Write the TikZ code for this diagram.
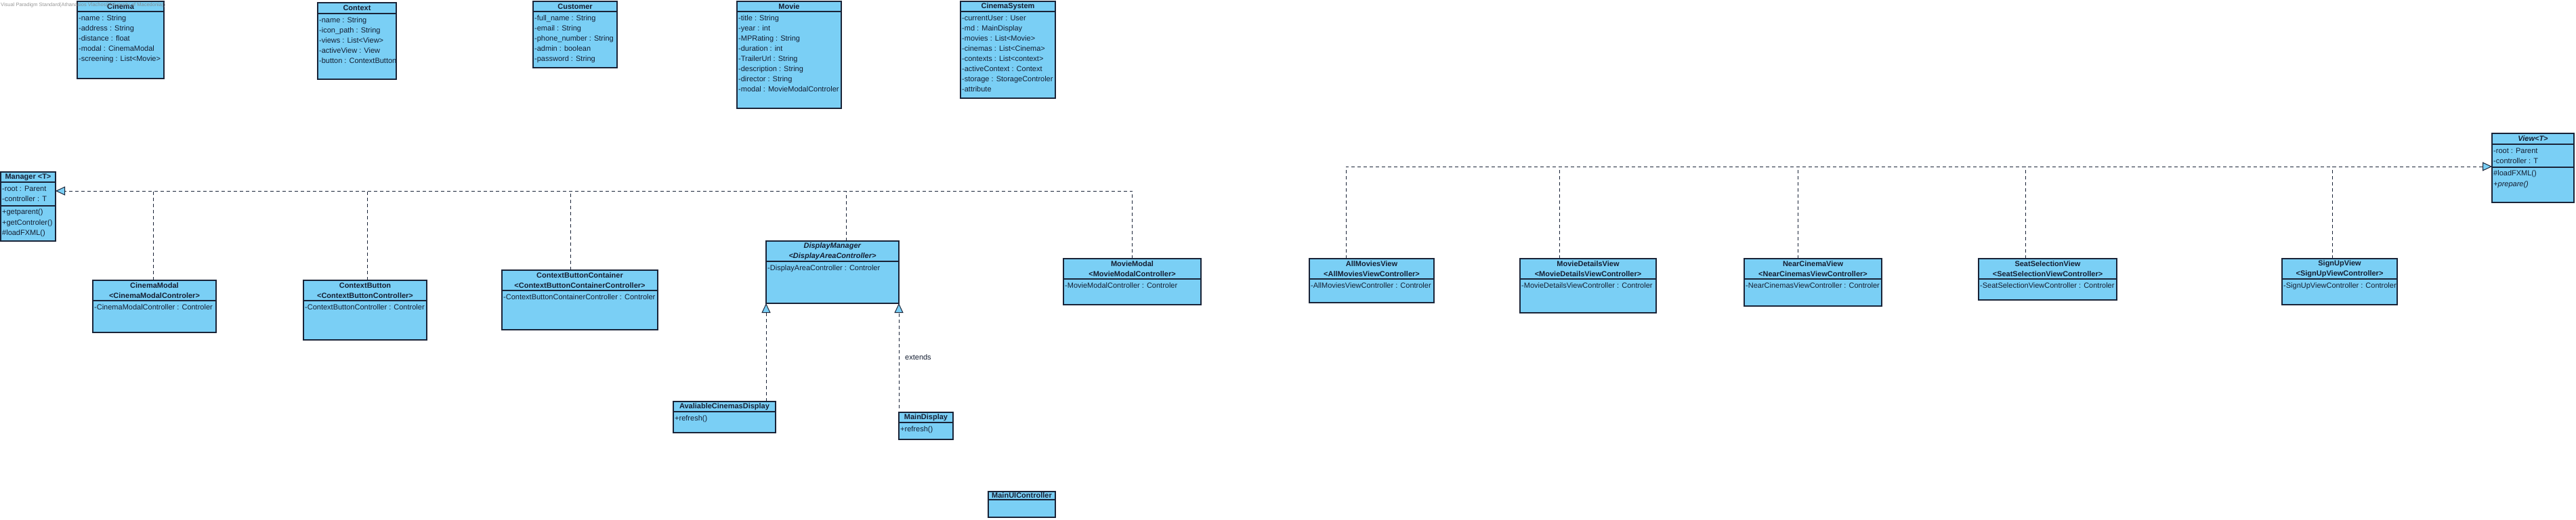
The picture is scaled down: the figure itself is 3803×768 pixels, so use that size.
\documentclass[tikz,border=0pt]{standalone}
\usepackage{fontspec}
\setmainfont{Liberation Sans}
\usetikzlibrary{arrows.meta,calc}
\definecolor{boxfill}{RGB}{122,207,245}
\definecolor{boxline}{RGB}{25,35,55}
\definecolor{txt}{RGB}{20,30,50}
\tikzset{
  clsbox/.style={draw=boxline, line width=1.2pt, fill=boxfill, inner sep=0pt, outer sep=0pt},
  clsline/.style={draw=boxline, line width=1.2pt},
  hdr/.style={font=\fontsize{11}{15}\selectfont\bfseries, text=txt, align=center, inner sep=0pt},
  rowtext/.style={font=\fontsize{11}{15}\selectfont, text=txt, anchor=base west, inner sep=0pt},
  realize/.style={draw=boxline, line width=1pt, dash pattern=on 5pt off 4pt},
  hollow/.style={-{Triangle[length=14pt,width=13pt,fill=boxfill,line width=1pt]}},
}
\newcommand\umlclass[8]{%
  \node[clsbox, minimum width=#4pt, minimum height=#5pt, anchor=north west] (#1) at (#2,#3) {};
  \draw[clsline] ([yshift=-#6pt]#1.north west) -- ([yshift=-#6pt]#1.north east);
  \node[hdr] (#1-head) at ([yshift=-#6/2]#1.north) {#7};
  \foreach \t [count=\i] in {#8} {%
    \pgfmathsetmacro\yy{#6+13.5+(\i-1)*15}%
    \node[rowtext] (#1-r\i) at ([xshift=2pt,yshift=-\yy pt]#1.north west) {\t};
  }%
}
\newcommand\umlops[3]{%
  \draw[clsline] ([yshift=-#2pt]#1.north west) -- ([yshift=-#2pt]#1.north east);
  \foreach \t [count=\i] in {#3} {%
    \pgfmathsetmacro\yy{#2+12.5+(\i-1)*15.5}%
    \node[rowtext] (#1-m\i) at ([xshift=2pt,yshift=-\yy pt]#1.north west) {\t};
  }%
}
\begin{document}
\begin{tikzpicture}[x=1pt,y=-1pt]
\fill[white] (0,0) rectangle (3803,768);
\useasboundingbox (0,0) rectangle (3803,768);

% top row of classes
\umlclass{cinema}{114}{2}{128}{114}{15}{Cinema}{-name : String,-address : String,-distance : float,-modal : CinemaModal,-screening : List<Movie>}
\umlclass{context}{469}{4}{116}{113}{16}{Context}{-name : String,-icon\_path : String,-views : List<View>,-activeView : View,-button : ContextButton}
\umlclass{customer}{787}{2}{124}{98}{15}{Customer}{-full\_name : String,-email : String,-phone\_number : String,-admin : boolean,-password : String}
\umlclass{movie}{1088}{2}{154}{158}{15}{Movie}{-title : String,-year : int,-MPRating : String,-duration : int,-TrailerUrl : String,-description : String,-director : String,-modal : MovieModalControler}
\umlclass{cinemasystem}{1418}{2}{140}{143}{15}{CinemaSystem}{-currentUser : User,-md : MainDisplay,-movies : List<Movie>,-cinemas : List<Cinema>,-contexts : List<context>,-activeContext : Context,-storage : StorageControler,-attribute}

% generic parents
\umlclass{manager}{1}{254}{81}{102}{15}{Manager <T>}{-root : Parent,-controller : T}
\umlops{manager}{50}{+getparent(),+getControler(),\#loadFXML()}
\umlclass{view}{3679}{197}{121}{102}{16}{\textit{View<T>}}{-root : Parent,-controller : T}
\umlops{view}{50}{\#loadFXML(),\textit{+prepare()}}

% managers
\umlclass{cinemamodal}{137}{414}{182}{77}{30}{CinemaModal\\<CinemaModalControler>}{-CinemaModalController : Controler}
\umlclass{contextbutton}{448}{414}{182}{88}{30}{ContextButton\\<ContextButtonController>}{-ContextButtonController : Controler}
\umlclass{cbcontainer}{741}{399}{230}{88}{30}{ContextButtonContainer\\<ContextButtonContainerController>}{-ContextButtonContainerController : Controler}
\umlclass{displaymanager}{1131}{356}{196}{92}{30}{\textit{DisplayManager}\\\textit{<DisplayAreaController>}}{-DisplayAreaController : Controler}
\umlclass{moviemodal}{1570}{382}{203}{68}{30}{MovieModal\\<MovieModalController>}{-MovieModalController : Controler}

% views
\umlclass{allmovies}{1933}{382}{184}{65}{30}{AllMoviesView\\<AllMoviesViewController>}{-AllMoviesViewController : Controler}
\umlclass{moviedetails}{2244}{382}{201}{80}{30}{MovieDetailsView\\<MovieDetailsViewController>}{-MovieDetailsViewController : Controler}
\umlclass{nearcinema}{2575}{382}{203}{70}{30}{NearCinemaView\\<NearCinemasViewController>}{-NearCinemasViewController : Controler}
\umlclass{seatselection}{2921}{382}{204}{61}{30}{SeatSelectionView\\<SeatSelectionViewController>}{-SeatSelectionViewController : Controler}
\umlclass{signup}{3369}{382}{170}{68}{30}{SignUpView\\<SignUpViewController>}{-SignUpViewController : Controler}

% displays
\umlclass{avaliable}{994}{593}{151}{46}{15}{AvaliableCinemasDisplay}{+refresh()}
\umlclass{maindisplay}{1327}{609}{80}{40}{15}{MainDisplay}{+refresh()}

% MainUIController
\node[clsbox, minimum width=99pt, minimum height=38pt, anchor=north west] (mainui) at (1459,726) {};
\draw[clsline] ([yshift=-12pt]mainui.north west) -- ([yshift=-12pt]mainui.north east);
\node[hdr] (mainui-head) at ([yshift=-6pt]mainui.north) {MainUIController};

% watermark
\node[font=\fontsize{7.5}{9}\selectfont, text=gray, anchor=west, inner sep=0pt, opacity=0.8] (wm) at (1,8) {Visual Paradigm Standard(Athanasios Vlachos(University of Macedonia))};

% realizations to Manager
\coordinate (mtip) at ([yshift=23pt]manager.east);
\draw[realize] ([xshift=-2pt]cinemamodal.north) -- ([xshift=-2pt]cinemamodal.north |- mtip);
\draw[realize] ([xshift=3pt]contextbutton.north) -- ([xshift=3pt]contextbutton.north |- mtip);
\draw[realize] ([xshift=-14pt]cbcontainer.north) -- ([xshift=-14pt]cbcontainer.north |- mtip);
\draw[realize] ([xshift=20pt]displaymanager.north) -- ([xshift=20pt]displaymanager.north |- mtip);
\draw[realize, hollow] (moviemodal.north) |- (mtip);

% realizations to View
\coordinate (vtip) at ([yshift=2pt]view.west);
\draw[realize, hollow] ([xshift=-38pt]allmovies.north) |- (vtip);
\draw[realize] ([xshift=-42pt]moviedetails.north) -- ([xshift=-42pt]moviedetails.north |- vtip);
\draw[realize] ([xshift=-22pt]nearcinema.north) -- ([xshift=-22pt]nearcinema.north |- vtip);
\draw[realize] ([xshift=-33pt]seatselection.north) -- ([xshift=-33pt]seatselection.north |- vtip);
\draw[realize] ([xshift=-11pt]signup.north) -- ([xshift=-11pt]signup.north |- vtip);

% displays extend DisplayManager
\draw[realize, hollow] (displaymanager.south west |- avaliable.north) -- (displaymanager.south west);
\draw[realize, hollow] ([yshift=6pt]maindisplay.north west) -- (displaymanager.south east);
\node[font=\fontsize{11}{13}\selectfont, text=txt, anchor=west, inner sep=0pt] (extlbl) at (1336,528) {extends};
\end{tikzpicture}
\end{document}
